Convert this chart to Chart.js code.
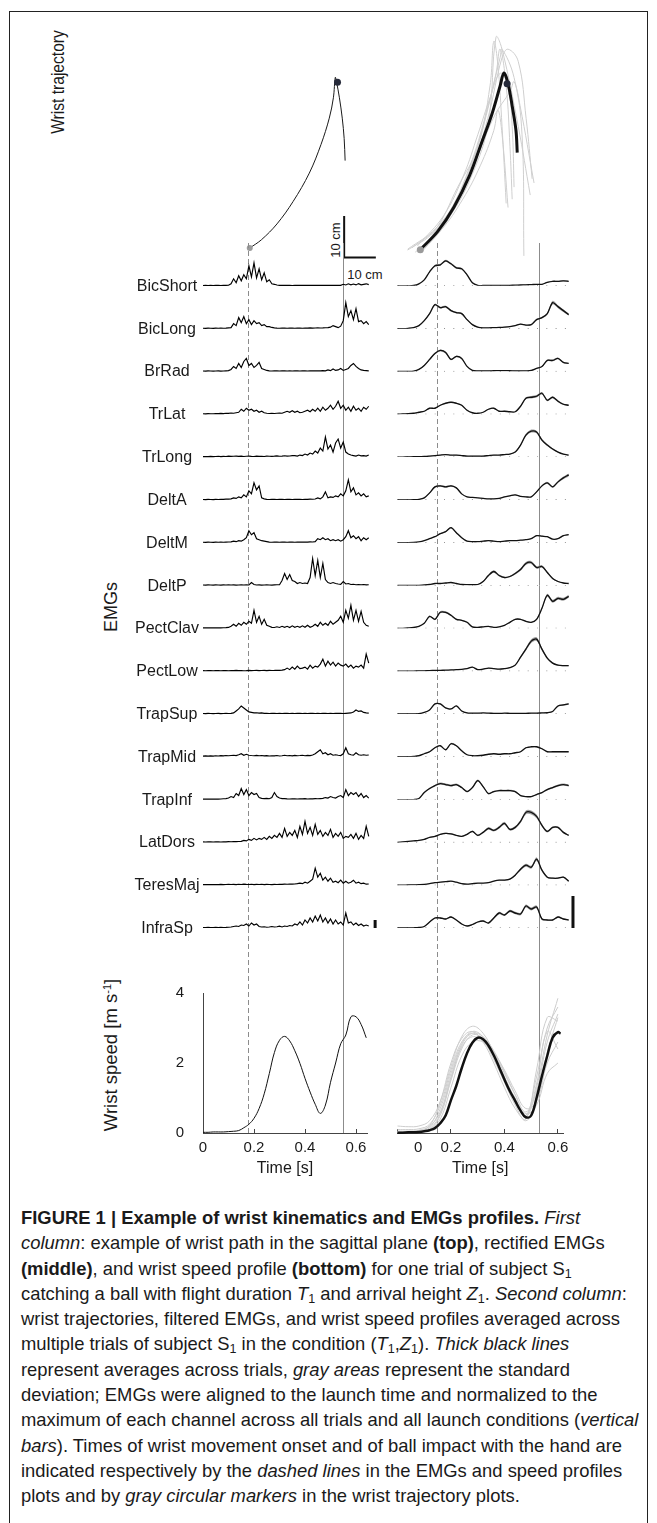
<!DOCTYPE html>
<html><head><meta charset="utf-8">
<script src="https://cdn.jsdelivr.net/npm/chart.js@4.4.1/dist/chart.umd.min.js"></script>
<style>
html,body{margin:0;padding:0;background:#fff;}
#fig{position:relative;width:657px;height:1523px;overflow:hidden;font-family:'Liberation Sans',Arial,Helvetica,sans-serif;color:#1a1a1a;}
#frame{position:absolute;left:9px;top:11px;width:639px;height:1600px;border:1px solid #222;box-sizing:border-box;}
canvas{position:absolute;}
.lab{position:absolute;font-size:16px;white-space:nowrap;transform:translate(-50%,-50%);line-height:1;}
.rot{position:absolute;white-space:nowrap;transform:translate(-50%,-50%) rotate(-90deg);line-height:1;}
#cap{position:absolute;left:21px;top:1205px;font-size:18.4px;line-height:25.3px;white-space:nowrap;}
#cap sub{font-size:0.68em;line-height:0;vertical-align:-0.25em;}
sup{font-size:0.6em;line-height:0;vertical-align:0.55em;}
</style></head><body>
<div id="fig">
<div id="frame"></div>
<div class="rot" style="left:57px;top:82px;font-size:19px;transform:translate(-50%,-50%) rotate(-90deg) scaleX(0.82);">Wrist trajectory</div>
<div class="rot" style="left:111px;top:607px;font-size:18px;">EMGs</div>
<div class="rot" style="left:111px;top:1055px;font-size:18.5px;">Wrist speed [m s<sup>-1</sup>]</div>
<div class="rot" style="left:335px;top:240px;font-size:13px;">10 cm</div>
<div class="lab" style="left:365px;top:274px;font-size:13px;">10 cm</div>
<div id="cap">
<div><b>FIGURE 1 | Example of wrist kinematics and EMGs profiles.</b> <i>First</i></div>
<div><i>column</i>: example of wrist path in the sagittal plane <b>(top)</b>, rectified EMGs</div>
<div><b>(middle)</b>, and wrist speed profile <b>(bottom)</b> for one trial of subject S<sub>1</sub></div>
<div>catching a ball with flight duration <i>T</i><sub>1</sub> and arrival height <i>Z</i><sub>1</sub>. <i>Second column</i>:</div>
<div>wrist trajectories, filtered EMGs, and wrist speed profiles averaged across</div>
<div>multiple trials of subject S<sub>1</sub> in the condition (<i>T</i><sub>1</sub>,<i>Z</i><sub>1</sub>). <i>Thick black lines</i></div>
<div>represent averages across trials, <i>gray areas</i> represent the standard</div>
<div>deviation; EMGs were aligned to the launch time and normalized to the</div>
<div>maximum of each channel across all trials and all launch conditions (<i>vertical</i></div>
<div><i>bars</i>). Times of wrist movement onset and of ball impact with the hand are</div>
<div>indicated respectively by the <i>dashed lines</i> in the EMGs and speed profiles</div>
<div>plots and by <i>gray circular markers</i> in the wrist trajectory plots.</div>
</div>
</div>
<script>
// ================= DATA =================
const MUSCLES = ['BicShort','BicLong','BrRad','TrLat','TrLong','DeltA','DeltM','DeltP','PectClav','PectLow','TrapSup','TrapMid','TrapInf','LatDors','TeresMaj','InfraSp'];

// --- wrist trajectory, single trial (cm, sagittal plane) ---
const TRAJ_L_X = [-29.8,-26.1,-21.2,-16.1,-11.0,-7.3,-4.7,-3.4,-2.8,-2.4,-1.5,-0.6,0,0.3];
const TRAJ_L_Y = [2.3,4.3,8.1,13.5,20.3,27.2,33.5,38.4,43.3,42.2,38.4,33.5,28.6,23.3];
const TRAJ_L_IMPACT = [-2.1, 42.1];
// --- wrist trajectory, average and single trials (cm) ---
const TRAJ_R_X = [-29.4,-23.9,-18.8,-13.8,-10,-6.8,-4.2,-3.0,-1.7,-0.4,0.8,1.2];
const TRAJ_R_Y = [1.9,6.3,12.1,19.8,27.7,34.4,41.2,44.3,41.7,36.4,30.5,25.2];
const TRAJ_R_IMPACT = [-2.0, 41.7];
const TRIAL1_X = [-33.4,-25.2,-17.6,-11.2,-7.4,-6.2,-4.9,-3.6,-2.3], TRIAL1_Y = [1.8,6.2,16.9,26.7,41.2,51.9,46.1,31.5,13.0];
const TRIAL2_X = [-32.1,-22.6,-15.0,-9.9,-5.5,-4.2,-2.3,-1.1,-0.4], TRIAL2_Y = [2.3,8.2,18.9,30.5,44.2,50.0,41.2,26.7,14.0];
const TRIAL3_X = [-29.0,-21.4,-13.8,-8.1,-3.6,-1.7,1.5,4.0,5.9],   TRIAL3_Y = [1.3,8.2,19.8,33.4,48.0,50.0,47.1,33.4,18.9];
const TRIAL4_X = [-30.3,-22.0,-15.7,-11.2,-7.4,-4.2,-1.7,-0.4,0.2], TRIAL4_Y = [2.8,10.1,19.8,29.6,38.3,44.2,41.2,31.5,16.9];
const TRIAL5_X = [-27.7,-20.1,-13.8,-8.7,-4.2,-3.6,0.2,2.7,3.3],   TRIAL5_Y = [3.3,11.1,21.8,34.4,48.0,50.0,43.2,29.6,0.4];
const TRIAL6_X = [-33.4,-24.5,-17.0,-11.0,-6.0,-1.0,0.2,2.1,6.5],  TRIAL6_Y = [2.0,7.0,15.0,25.0,34.0,40.0,42.2,36.4,17.9];
const TRIAL7_X = [-31.0,-23.0,-16.0,-10.5,-6.2,-4.9,-3.6,-1.7],    TRIAL7_Y = [1.3,6.5,14.0,22.0,30.5,35.4,29.6,12.0];
const TRIAL8_X = [-28.0,-20.0,-13.0,-8.0,-5.5,-3.6,1.5,5.3],       TRIAL8_Y = [3.0,10.0,20.0,32.0,52.9,50.0,31.5,15.0];
const SCALEBAR_CM = 10;

// --- rectified EMGs, single trial (a.u.), sampled every 10 ms from t = 0 ---
const EMG_L_DT = 0.01;
const EMG_L_BICSHORT = [0.3,0.5,0.3,0.4,0.3,0.5,0.4,0.3,0.5,0.4,0.6, 2,7,3,10,5,11,7,20,9,23,8,17,6,13,4,6,2,1.5,0.8, 0.5,0.4,0.6,0.4,0.5,0.3,0.5,0.6,0.4,0.5,0.4,0.6,0.5,0.4,0.5,0.6,0.4,0.5,0.4,0.5,0.6,0.5,0.4,0.6,0.5, 1.5,0.8,2,1,1.8,0.9,2.2,1,1.5,2,1.2];
const EMG_L_BICLONG = [0.4,0.3,0.5,0.4,0.3,0.5,0.4,0.6,0.4,0.5,0.8, 1,5,3,11,6,12,5,9,4,8,5,6,3,4,2,2,1.2,0.8, 0.5,0.4,0.6,0.5,0.4,0.5,0.6,0.4,0.5,0.5,0.4,0.6,0.5,0.7,0.5,0.6,0.8,0.6,0.7,0.9, 1,1.5,3,2,1,2.5,8,26,12,18,9,20,7,8,5,7,4];
const EMG_L_BRRAD = [0.4,0.3,0.5,0.4,0.3,0.4,0.5,0.3,0.4,0.6,0.8, 2,5,3,8,4,10,13,6,8,4,6,9,3,2,1, 0.5,0.4,0.6,0.5,0.4,0.5,0.6,0.4,0.5,0.4,0.6,0.5,0.4,0.5,0.6,0.4,0.5,0.6,0.5,0.7,0.5,0.8,0.6, 1.5,0.8,2.5,1,1.5,3,1,2,3,6,8,5,3,1.5,1,0.8,0.6];
const EMG_L_TRLAT = [0.5,0.4,0.6,0.5,0.5,0.7,0.6,0.8,0.7,1,0.9, 1.2,1,1.5,2,5,3,6,4,5,3,4,2,3,1.5,1, 0.8,1,0.8,1,1.2,1,2,3,2,3.5,2,3,1.5,2,3,4,2.5,5,3,6,3,7,4,6,9,5,8,13,6,9,4,7,3,8,4,6,3,7,5,8];
const EMG_L_TRLONG = [0.5,0.6,0.4,0.7,0.5,0.6,0.8,0.5,0.7,0.6,0.9,0.7,0.8,1,0.7,0.9,0.6,0.8,1,0.7,0.6,0.9,0.7,0.8,0.6,1,0.8,0.7,0.9,1.2,0.8,1,1.3,0.9,1.1,1.4, 1.5,1,2,1.5,3,2,4,3,6,4,9,6,20,8,12,5,14,18,9,15,5,3,2, 1.5,1,2,1.2,1.5,1,2];
const EMG_L_DELTA = [0.4,0.3,0.5,0.4,0.3,0.5,0.4,0.6,0.5,0.7,0.8, 1,2,1.5,3,2,5,3,9,6,17,10,14,2,1, 0.5,0.4,0.6,0.5,0.4,0.6,0.5,0.4,0.5,0.6,0.4,0.5,0.6,0.5,0.4,0.6,0.5,0.7,0.6,0.9, 2,1,3,8,2,3,2.5,4,3,6,4,9,20,8,12,5,7,4,6,3,4];
const EMG_L_DELTM = [0.4,0.3,0.5,0.4,0.3,0.5,0.4,0.5,0.4,0.6,0.7, 0.8,1.5,1,2,1.5,3,5,12,8,10,4,3,2,1.5,1, 0.5,0.4,0.6,0.5,0.4,0.6,0.5,0.4,0.6,0.5,0.4,0.6,0.5,0.7,0.5,0.6,0.8,0.7, 1,4,3,5,3,4,2,3,2,3,1.5,3,6,12,5,7,4,6,2,5,3,5];
const EMG_L_DELTP = [0.5,0.4,0.6,0.5,0.4,0.6,0.5,0.4,0.6,0.5,0.7,0.5,0.6,0.4,0.5,0.7,0.5,0.6,0.5, 3,1, 0.5,0.6,0.4,0.5,0.6,0.5,0.4,0.6,0.7,0.8, 5,12,6,11,5,4,2,3,2,2.5,2,8,27,10,25,8,22,6,3,2,3,2,1.5,1.2,4,1.5,2,1,1.2,0.8,1,0.8,1,0.7,0.8];
const EMG_L_PECTCLAV = [0.5,0.4,0.6,0.5,0.4,0.6,0.5,0.4,0.6,0.7,0.9, 2,4,2,5,3,6,4,7,5,18,6,12,4,9,3,2,1, 0.8,1.5,0.8,2,1,2,0.8,2.5,1,2,1,2.5,1,3,1,2,4,2,6,3,5,3,7,4,6,8,12,6,18,10,23,8,18,7,17,6,3,2];
const EMG_L_PECTLOW = [0.5,0.4,0.6,0.5,0.4,0.6,0.5,0.4,0.6,0.5,0.4,0.6,0.5,0.7,0.5,0.6,0.4,0.5,0.7,0.5,0.6,0.8,0.5,0.6,0.7,0.5,0.8,0.6,0.7,0.9,0.7,1, 1.5,3,1.5,4,2,5,2.5,3,4,2,6,3,5,4,7,12,5,10,6,9,5,8,6,5,7,4,6,3,5,4,6,3,17,8];
const EMG_L_TRAPSUP = [0.4,0.3,0.5,0.4,0.3,0.4,0.5,0.3,0.4,0.5,0.4,0.6,1, 3,5,8,6,4,2,1.5,1,1.2,0.8,1, 0.5,0.6,0.4,0.5,0.6,0.4,0.5,0.4,0.5,0.6,0.4,0.5,0.4,0.5,0.6,0.4,0.5,0.4,0.5,0.6,0.4,0.5,0.4,0.5,0.6,0.4,0.5,0.4,0.5,0.6,0.5,0.4,0.6,0.8,1, 2,4,2.5,3,1.5,1,0.8];
const EMG_L_TRAPMID = [0.6,0.8,0.6,0.9,0.7,1,0.8,1.1,0.9,1.2,1,1.3,1.5,1.2, 2,3,1.5,2.5,1.5,1.2,1,1.3,1,1.2,0.9,1.1,0.8,1,0.9,1.2,0.8,1,1.5,1,1.2,0.9,1.4,1,1.2,1.5,1,1.3,1.2,1.8,3,5,7,3,4,2,3,1.5,2,1.5,1.2,3,9,3,2,1.5,4,2,1.5,2,1.5,1.8];
const EMG_L_TRAPINF = [0.5,0.4,0.6,0.5,0.4,0.6,0.5,0.6,0.8,1, 1.5,3,2,6,4,11,5,10,4,7,5,6,2,1.2,1,1.2,0.8,2,7,3,1.5,1,0.9, 0.7,0.6,0.8,0.7,0.6,0.8,0.7,0.9,0.6,0.8,0.7,0.9,0.8,1,1.2, 2,1.5,3,2,1.5,3,4,2,10,4,7,5,7,3,6,2,4,1.5];
const EMG_L_LATDORS = [0.5,0.4,0.6,0.5,0.4,0.6,0.5,0.4,0.6,0.5,0.7,0.6,0.8,0.7,0.9, 1,2,1.5,3,2,4,2.5,4,3,5,3,6,4,7,5,9,5,14,6,10,7,12,5,16,8,21,9,15,7,18,8,12,6,10,7,13,5,9,6,10,4,6,5,8,4,9,3,7,4,16,6];
const EMG_L_TERESMAJ = [0.6,0.5,0.7,0.6,0.5,0.7,0.6,0.8,0.6,0.7,0.9,0.7,0.8,0.6,0.9,0.7,1,0.8,0.7,0.9,0.6,0.8,0.7,0.9,0.6,0.8,0.7,0.6,0.8,0.7,0.9,0.8,1,0.9,1.1,1,1.2, 1.5,2,1.5,3,2,4,6,17,8,12,5,8,4,7,3,4,2.5,5,2,4,2,3,5,2,3,1.5,2,1,1.2];
const EMG_L_INFRASP = [0.5,0.4,0.6,0.5,0.4,0.6,0.5,0.7,0.5,0.6,0.8,1, 1.5,2,1.5,3,2.5,4,2,5,3,4,1.5,1,1.2,0.8,1,1.5,1,1.2,1.8,1,2,1.5,2.5,2,4,3,6,3,8,5,10,6,12,7,13,6,10,5,9,4,8,4,6,3,15,5,6,3,5,2.5,4,2,3,2];
const EMG_L_BAR = 8;          // vertical bar (a.u.)
const EMG_L_BAR_T = 0.675;    // s

// --- filtered EMGs, mean and SD across trials (a.u., bar = max), sampled every 20 ms ---
const EMG_R_DT = 0.02;
const EMG_R_MEAN_BICSHORT = [0,0,0,0.3,2,6,14,20,21,25,22,18,17,11,3,0.5,0.3,0.3,0.3,0.3,0.4,0.5,0.6,0.8,1,1.2,1.5,1.5,3.5,4.5,4.5,5,4.5];
const EMG_R_SD_BICSHORT   = [0,0,0,0.1,0.3,0.5,0.8,1,1,1,1,1,0.8,0.8,0.5,0.2,0.1,0.1,0.1,0.1,0.1,0.2,0.2,0.2,0.2,0.3,0.3,0.4,0.5,0.5,0.5,0.5,0.5];
const EMG_R_MEAN_BICLONG = [0,0,0.3,1,3,8,15,24,21,22,18,16,15,9,4,1.5,0.8,0.8,1,1.2,1.5,2,3,4.5,3.5,4,9,11,15,26,22,18,14];
const EMG_R_SD_BICLONG   = [0,0,0.1,0.2,0.4,0.6,0.8,1,1,1,0.9,0.8,0.8,0.6,0.5,0.3,0.2,0.2,0.2,0.2,0.3,0.3,0.4,0.5,0.5,0.5,0.8,0.9,1,1.8,1.5,1.3,1];
const EMG_R_MEAN_BRRAD = [0,0,0,0.3,2,6,12,18,21,19,12,15,13,5,1,0.5,0.5,0.5,0.7,0.8,0.8,0.7,0.5,0.5,0.6,1,3,5,11,11,13,9,8];
const EMG_R_SD_BRRAD   = [0,0,0,0.1,0.3,0.5,0.8,0.9,1,1,0.8,0.8,0.8,0.5,0.3,0.2,0.2,0.2,0.2,0.2,0.2,0.2,0.2,0.2,0.2,0.3,0.4,0.5,0.8,0.9,0.8,0.8,0.6];
const EMG_R_MEAN_TRLAT = [0,0.3,0.5,1,2,3,6,6,9,11,12,11,9,4,1.5,1,2,5,6,3,3,2.5,2.5,8,16,17,18,21,14,17,13,10,9];
const EMG_R_SD_TRLAT   = [0,0.1,0.1,0.2,0.3,0.3,0.4,0.5,0.5,0.6,0.6,0.6,0.5,0.4,0.3,0.3,0.3,0.5,0.5,0.4,0.4,0.3,0.3,0.5,1,1.3,1.3,1.3,1,1,1,0.8,0.6];
const EMG_R_MEAN_TRLONG = [0,0,0.2,0.3,0.5,0.6,1,1.5,2,2.5,2,2,1.5,1,1,1,1,1.5,2,2,2.5,3,5,12,22,26,25,17,12,8,5,3,2];
const EMG_R_SD_TRLONG   = [0,0,0,0.1,0.1,0.1,0.2,0.2,0.2,0.2,0.2,0.2,0.2,0.2,0.2,0.2,0.2,0.2,0.2,0.2,0.3,0.3,0.5,1,1.3,1.5,1.3,1.3,1,0.8,0.5,0.4,0.3];
const EMG_R_MEAN_DELTA = [0,0,0,0.2,0.5,2,7,13,14,13,14,12,6,3,2.5,2,1.5,1,1,1.5,3,4,5,3.5,3,3,8,14,17,13,18,22,25];
const EMG_R_SD_DELTA   = [0,0,0,0.1,0.1,0.3,0.5,0.8,0.8,0.8,0.8,0.6,0.5,0.3,0.3,0.2,0.2,0.2,0.2,0.3,0.3,0.4,0.5,0.4,0.3,0.3,0.6,0.8,1,0.9,1,1.3,1.5];
const EMG_R_MEAN_DELTM = [0,0,0,0.2,0.8,2,4,6,9,11,15,10,5,1.5,1,1,1.5,2,1.5,1,1.5,2,2,2.5,3,4,7,6.5,6,3.5,4,7,8];
const EMG_R_SD_DELTM   = [0,0,0,0.1,0.1,0.2,0.3,0.4,0.5,0.6,0.8,0.6,0.4,0.2,0.2,0.2,0.2,0.2,0.2,0.2,0.2,0.2,0.2,0.3,0.3,0.4,0.5,0.5,0.4,0.3,0.4,0.5,0.5];
const EMG_R_MEAN_DELTP = [0,0,0,0,0.2,0.5,1,2,2,2.5,3,2,1,0.8,0.8,1,4,10,14,10,8,9,12,16,22,23,18,19,13,7,4,2.5,2];
const EMG_R_SD_DELTP   = [0,0,0,0,0.1,0.1,0.2,0.2,0.2,0.3,0.3,0.2,0.2,0.2,0.2,0.2,0.5,1,1.3,1,0.8,0.8,1,1.3,1.5,1.5,1.3,1.3,1,0.8,0.5,0.3,0.3];
const EMG_R_MEAN_PECTCLAV = [0,0,0.3,0.8,2,5,12,9,16,16,13,9,8,6,1.5,1,1.5,2,1,1.5,3,6,9,9,7,6,9,20,33,27,30,29,32];
const EMG_R_SD_PECTCLAV   = [0,0,0.1,0.1,0.2,0.4,0.8,0.8,1,1,0.9,0.8,0.6,0.5,0.3,0.2,0.2,0.2,0.2,0.2,0.3,0.5,0.6,0.6,0.5,0.5,0.8,1,1.5,1.5,1.5,1.5,1.5];
const EMG_R_MEAN_PECTLOW = [0,0,0,0,0.2,0.3,0.5,0.7,0.8,1,1.2,1.5,1.8,2.5,4,1.5,2,3,2.5,2,2.5,3.5,6,14,22,30,32,22,13,8,6,5.5,5.5];
const EMG_R_SD_PECTLOW   = [0,0,0,0,0.1,0.1,0.1,0.1,0.1,0.2,0.2,0.2,0.2,0.3,0.3,0.3,0.3,0.3,0.3,0.3,0.3,0.4,0.6,1,1.5,1.8,1.8,1.5,1,0.8,0.5,0.5,0.5];
const EMG_R_MEAN_TRAPSUP = [0,0,0,0,0.3,1.5,4,10,10,6,5,8,3,1,0.8,0.8,1,0.8,0.6,0.5,0.8,0.6,0.5,0.5,0.6,0.8,0.8,1,1.2,2.5,8,9,10];
const EMG_R_SD_TRAPSUP   = [0,0,0,0,0.1,0.2,0.4,0.6,0.6,0.5,0.4,0.5,0.3,0.2,0.1,0.1,0.1,0.1,0.1,0.1,0.1,0.1,0.1,0.1,0.1,0.1,0.1,0.2,0.2,0.3,0.6,0.8,0.8];
const EMG_R_MEAN_TRAPMID = [0,0,0,0.3,1,3,5,9,11,7,13,11,6,2,1,1,1.5,2.5,3,2.5,3,3,4,5,9,10,10,8,5,5,5,5,5];
const EMG_R_SD_TRAPMID   = [0,0,0,0.1,0.2,0.3,0.4,0.5,0.6,0.5,0.8,0.6,0.4,0.2,0.2,0.2,0.2,0.3,0.3,0.3,0.3,0.3,0.4,0.4,0.5,0.6,0.6,0.5,0.4,0.4,0.4,0.4,0.4];
const EMG_R_MEAN_TRAPINF = [0,0,0,0,1,7,11,14,16,15,14,15,12,8,12,19,13,6,8,9,9,9,8,4,3,3,5,7,10,12,14,15,14];
const EMG_R_SD_TRAPINF   = [0,0,0,0,0.2,0.5,0.8,0.9,1,1,1,1,0.9,0.8,0.8,1,0.9,0.6,0.8,0.8,0.8,0.8,0.8,0.5,0.4,0.4,0.5,0.6,0.8,0.9,1,1,1];
const EMG_R_MEAN_LATDORS = [0,0.5,1,1.5,2,3,5,6,8,9,8.5,7,6,8,11,7,10,14,12,15,19,13,15,21,30,30,26,17,11,15,15,10,7];
const EMG_R_SD_LATDORS   = [0,0.1,0.1,0.2,0.2,0.3,0.4,0.5,0.6,0.6,0.6,0.5,0.5,0.6,0.9,0.8,0.9,1.3,1,1.3,1.5,1,1.3,1.5,2,2,1.8,1.3,1,1,1,0.8,0.6];
const EMG_R_MEAN_TERESMAJ = [0,0,0.2,0.3,0.5,0.8,1.5,2.5,3,3.5,4,3,1.5,1,1.5,2,2,2.5,4,5,5,6,10,16,20,18,26,15,8,7,7,8,4];
const EMG_R_SD_TERESMAJ   = [0,0,0,0.1,0.1,0.1,0.2,0.2,0.3,0.3,0.3,0.3,0.2,0.2,0.2,0.2,0.2,0.3,0.3,0.4,0.5,0.6,0.9,1.3,1.5,1.5,1.8,1.3,0.8,0.6,0.6,0.6,0.5];
const EMG_R_MEAN_INFRASP = [0,0,0,0.2,0.5,1.5,6,10,10,9,11,8,4,2,3.5,6,7,5,10,15,13,17,15,14,22,19,21,9,8,8,11,9,8];
const EMG_R_SD_INFRASP   = [0,0,0,0.1,0.1,0.2,0.5,0.8,0.8,0.8,0.8,0.6,0.4,0.3,0.4,0.6,0.6,0.6,1,1.3,1,1.3,1.3,1.3,1.5,1.5,1.5,1,0.8,0.8,0.8,0.8,0.6];
const EMG_R_BAR = 32;         // normalisation maximum (a.u.)
const EMG_R_BAR_T = 0.656;    // s
const EMG_R_BASE_SPAN = [0, 0.634];

// --- wrist speed (m/s) ---
const SPEED_L_DT = 0.02;
const SPEED_L = [0.02,0.02,0.03,0.03,0.03,0.04,0.05,0.07,0.15,0.25,0.42,0.7,1.12,1.7,2.3,2.65,2.76,2.63,2.35,1.99,1.56,1.17,0.82,0.56,0.8,1.45,2.0,2.55,2.8,3.32,3.32,3.1,2.72];
const SPEED_R_T = [0,0.02,0.04,0.06,0.08,0.10,0.12,0.14,0.16,0.18,0.20,0.22,0.24,0.26,0.28,0.30,0.32,0.34,0.36,0.38,0.40,0.42,0.44,0.46,0.48,0.50,0.52,0.54,0.56,0.58,0.60,0.61];
const SPEED_R_MEAN = [0.01,0.01,0.02,0.02,0.03,0.05,0.08,0.14,0.28,0.5,0.94,1.35,1.85,2.28,2.58,2.72,2.68,2.5,2.22,1.88,1.53,1.2,0.92,0.64,0.45,0.5,1.0,1.62,2.2,2.72,2.88,2.84];
const SPEED_TRIAL_DT = 0.04;
const SPEED_TRIAL_1 = [0.2,0.18,0.2,0.35,0.9,1.9,2.75,3.05,2.85,2.3,1.6,0.95,0.45,1.3,2.8,3.85];
const SPEED_TRIAL_2 = [0.05,0.05,0.06,0.15,0.7,1.7,2.55,2.9,2.75,2.25,1.55,0.9,0.5,1.6,3.0,3.6];
const SPEED_TRIAL_3 = [0.02,0.02,0.04,0.1,0.5,1.5,2.4,2.8,2.7,2.3,1.7,1.1,0.6,1.2,2.6,3.4];
const SPEED_TRIAL_4 = [0.1,0.1,0.12,0.25,0.8,1.8,2.6,2.85,2.65,2.1,1.45,0.8,0.35,0.9,2.3,3.3];
const SPEED_TRIAL_5 = [0.02,0.03,0.05,0.1,0.4,1.3,2.2,2.6,2.6,2.3,1.8,1.2,0.7,0.9,2.0,2.6];
const SPEED_TRIAL_6 = [0.03,0.04,0.05,0.2,0.9,2.0,2.7,2.9,2.6,2.0,1.3,0.7,0.4,1.8,3.3,3.2];
const SPEED_TRIAL_7 = [0.05,0.05,0.08,0.2,0.6,1.6,2.45,2.75,2.6,2.2,1.6,1.0,0.55,0.8,1.7,2.0];
const SPEED_TRIAL_8 = [0.02,0.02,0.03,0.12,0.55,1.55,2.5,2.85,2.75,2.35,1.75,1.1,0.5,1.4,2.9,2.4];

// --- event times (s) and ticks ---
const ONSET_L = 0.176, IMPACT_L = 0.549;
const ONSET_R = 0.148, IMPACT_R = 0.53;
const X_TICKS = [0, 0.2, 0.4, 0.6];
const Y_TICKS = [0, 2, 4];
const ZERO_LABEL_T_R = 0.077;   // where the "0" label is printed in the right speed panel

// ================= LAYOUT =================
const FONT = "'Liberation Sans', Arial, Helvetica, sans-serif";
const TRAJ_GEO_L = {left:200, top:30, w:200, h:250, x0:346, y0:261, sx:3.3, sy:4.3};
const TRAJ_GEO_R = {left:400, top:20, w:200, h:260, x0:514, y0:261, sx:3.3, sy:4.3};
const EMG_TOP = 243, EMG_H = 685;
const COL_L = {x0:203, pps:255, emgLeft:195, emgW:190, spLeft:150, spW:240, spPadR:23, yW:53, tMax:0.643};
const COL_R = {x0:397.5, pps:267.5, emgLeft:390, emgW:200, spLeft:380, spW:210, spPadR:27, tMax:0.619};
const SP_TOP = 928, SP_H = 257, SP_PADTOP = 65, SP_AXH = 52;

Chart.defaults.font.family = FONT;
Chart.defaults.color = '#1a1a1a';

function makeCtx(left, top, w, h) {
  const c = document.createElement('canvas');
  c.width = w; c.height = h;
  c.style.left = left + 'px'; c.style.top = top + 'px';
  c.style.width = w + 'px'; c.style.height = h + 'px';
  document.getElementById('fig').appendChild(c);
  return c.getContext('2d');
}
const pts = (xs, ys) => xs.map((x, i) => ({x, y: ys[i]}));
const series = (vals, dt) => vals.map((v, i) => ({x: i * dt, y: v}));
const baseOpts = () => ({responsive:false, animation:false, devicePixelRatio:1, events:[],
  layout:{padding:0}, plugins:{legend:{display:false}, tooltip:{enabled:false}}});

const timeLines = {
  id: 'timeLines',
  beforeDatasetsDraw(chart, args, opts) {
    const {ctx, chartArea} = chart, x = chart.scales.x;
    const top = opts.fromCanvasTop ? 0 : chartArea.top;
    ctx.save();
    ctx.strokeStyle = '#8c8c8c'; ctx.lineWidth = 1;
    for (const ev of opts.events) {
      const px = Math.round(x.getPixelForValue(ev.t)) + 0.5;
      ctx.setLineDash(ev.dashed ? [5, 3] : []);
      ctx.beginPath(); ctx.moveTo(px, top); ctx.lineTo(px, chartArea.bottom); ctx.stroke();
    }
    ctx.restore();
  }
};

// ---------- trajectories ----------
// Chart.js draws lower "order" values on top.
function trajChart(g, datasets) {
  const ctx = makeCtx(g.left, g.top, g.w, g.h);
  const o = baseOpts();
  o.scales = {
    x: {type:'linear', display:false, min:(g.left - g.x0) / g.sx, max:(g.left + g.w - g.x0) / g.sx},
    y: {type:'linear', display:false, min:(g.y0 - g.top - g.h) / g.sy, max:(g.y0 - g.top) / g.sy}
  };
  new Chart(ctx, {type:'scatter', data:{datasets}, options:o});
}
const lineDS = (data, color, width, tension, order) => ({data, showLine:true, borderColor:color, borderWidth:width, pointRadius:0, tension, clip:false, order});
const markerDS = (x, y, color, r) => ({data:[{x, y}], showLine:false, pointRadius:r, pointBackgroundColor:color, pointBorderWidth:0, clip:false, order:0});

trajChart(TRAJ_GEO_L, [
  lineDS(pts(TRAJ_L_X, TRAJ_L_Y), '#1a1a1a', 1, 0.35, 1),
  lineDS([{x:0, y:SCALEBAR_CM}, {x:0, y:0}, {x:SCALEBAR_CM, y:0}], '#111', 2, 0, 1),
  markerDS(TRAJ_L_X[0], TRAJ_L_Y[0], '#9a9a9a', 3),
  markerDS(TRAJ_L_IMPACT[0], TRAJ_L_IMPACT[1], '#262a3a', 3.5)
]);
const TRIALS = [[TRIAL1_X,TRIAL1_Y],[TRIAL2_X,TRIAL2_Y],[TRIAL3_X,TRIAL3_Y],[TRIAL4_X,TRIAL4_Y],[TRIAL5_X,TRIAL5_Y],[TRIAL6_X,TRIAL6_Y],[TRIAL7_X,TRIAL7_Y],[TRIAL8_X,TRIAL8_Y]];
trajChart(TRAJ_GEO_R, [
  ...TRIALS.map(([xs, ys]) => lineDS(pts(xs, ys), '#cfcfcf', 1, 0.4, 2)),
  lineDS(pts(TRAJ_R_X, TRAJ_R_Y), '#111', 3, 0.35, 1),
  markerDS(TRAJ_R_X[0], TRAJ_R_Y[0], '#9a9a9a', 3.5),
  markerDS(TRAJ_R_IMPACT[0], TRAJ_R_IMPACT[1], '#262a3a', 3.5)
]);

// ---------- EMG panels (one stacked y axis per muscle) ----------
function stackedScales(col, yMax) {
  const s = {x: {type:'linear', display:false,
    min:(col.emgLeft - col.x0) / col.pps, max:(col.emgLeft + col.emgW - col.x0) / col.pps}};
  for (let i = MUSCLES.length - 1; i >= 0; i--) {
    s['y' + i] = {type:'linear', position:'left', stack:'emg', stackWeight:1, min:0, max:yMax,
      ticks:{display:false}, grid:{display:false}, border:{display:false},
      afterFit: sc => { sc.width = 0; }};
  }
  return s;
}
const rowH = EMG_H / MUSCLES.length;

const EMG_L = [EMG_L_BICSHORT,EMG_L_BICLONG,EMG_L_BRRAD,EMG_L_TRLAT,EMG_L_TRLONG,EMG_L_DELTA,EMG_L_DELTM,EMG_L_DELTP,EMG_L_PECTCLAV,EMG_L_PECTLOW,EMG_L_TRAPSUP,EMG_L_TRAPMID,EMG_L_TRAPINF,EMG_L_LATDORS,EMG_L_TERESMAJ,EMG_L_INFRASP];
{
  const ctx = makeCtx(COL_L.emgLeft, EMG_TOP, COL_L.emgW, EMG_H);
  const ds = EMG_L.map((v, i) => ({type:'line', data:series(v, EMG_L_DT), yAxisID:'y'+i,
    borderColor:'#000', borderWidth:1.15, pointRadius:0, tension:0, clip:false}));
  ds.push({type:'line', data:[{x:EMG_L_BAR_T, y:0}, {x:EMG_L_BAR_T, y:EMG_L_BAR}], yAxisID:'y15',
    borderColor:'#111', borderWidth:3, pointRadius:0, borderCapStyle:'butt', clip:false});
  const o = baseOpts();
  o.scales = stackedScales(COL_L, rowH);
  o.plugins.timeLines = {events:[{t:ONSET_L, dashed:true}, {t:IMPACT_L, dashed:false}], fromCanvasTop:false};
  new Chart(ctx, {type:'line', data:{datasets:ds}, options:o, plugins:[timeLines]});
}

const EMG_R_MEAN = [EMG_R_MEAN_BICSHORT,EMG_R_MEAN_BICLONG,EMG_R_MEAN_BRRAD,EMG_R_MEAN_TRLAT,EMG_R_MEAN_TRLONG,EMG_R_MEAN_DELTA,EMG_R_MEAN_DELTM,EMG_R_MEAN_DELTP,EMG_R_MEAN_PECTCLAV,EMG_R_MEAN_PECTLOW,EMG_R_MEAN_TRAPSUP,EMG_R_MEAN_TRAPMID,EMG_R_MEAN_TRAPINF,EMG_R_MEAN_LATDORS,EMG_R_MEAN_TERESMAJ,EMG_R_MEAN_INFRASP];
const EMG_R_SD = [EMG_R_SD_BICSHORT,EMG_R_SD_BICLONG,EMG_R_SD_BRRAD,EMG_R_SD_TRLAT,EMG_R_SD_TRLONG,EMG_R_SD_DELTA,EMG_R_SD_DELTM,EMG_R_SD_DELTP,EMG_R_SD_PECTCLAV,EMG_R_SD_PECTLOW,EMG_R_SD_TRAPSUP,EMG_R_SD_TRAPMID,EMG_R_SD_TRAPINF,EMG_R_SD_LATDORS,EMG_R_SD_TERESMAJ,EMG_R_SD_INFRASP];
{
  const ctx = makeCtx(COL_R.emgLeft, EMG_TOP, COL_R.emgW, EMG_H);
  const ds = [];
  EMG_R_MEAN.forEach((m, i) => {
    const sd = EMG_R_SD[i];
    const yid = 'y' + i;
    ds.push({data:series(m.map((v, k) => v + (sd[k] || 0)), EMG_R_DT), yAxisID:yid, borderWidth:0, pointRadius:0, tension:0.3, fill:false, order:3});
    ds.push({data:series(m.map((v, k) => v - (sd[k] || 0)), EMG_R_DT), yAxisID:yid, borderWidth:0, pointRadius:0, tension:0.3,
      fill:'-1', backgroundColor:'rgba(150,150,150,0.9)', order:3});
    ds.push({data:[{x:EMG_R_BASE_SPAN[0], y:0}, {x:EMG_R_BASE_SPAN[1], y:0}], yAxisID:yid,
      borderColor:'#555', borderWidth:1, borderDash:[1, 8.3], pointRadius:0, fill:false, order:2});
    ds.push({data:series(m, EMG_R_DT), yAxisID:yid, borderColor:'#111', borderWidth:1.3, pointRadius:0, tension:0.3, fill:false, order:1});
  });
  ds.push({data:[{x:EMG_R_BAR_T, y:0}, {x:EMG_R_BAR_T, y:EMG_R_BAR}], yAxisID:'y15',
    borderColor:'#111', borderWidth:3, pointRadius:0, borderCapStyle:'butt', clip:false, fill:false, order:0});
  const o = baseOpts();
  o.scales = stackedScales(COL_R, rowH);
  o.plugins.timeLines = {events:[{t:ONSET_R, dashed:true}, {t:IMPACT_R, dashed:false}], fromCanvasTop:false};
  o.plugins.filler = {propagate:false};
  new Chart(ctx, {type:'line', data:{datasets:ds}, options:o, plugins:[timeLines]});
}

// EMG channel labels
MUSCLES.forEach((name, i) => {
  const d = document.createElement('div');
  d.className = 'lab';
  d.textContent = name;
  d.style.left = '167px';
  d.style.top = (EMG_TOP + rowH * (i + 1)) + 'px';
  document.getElementById('fig').appendChild(d);
});

// ---------- speed panels ----------
function xAxis(col, ticks, labelFor, tickColorFor) {
  return {type:'linear', position:'bottom', min:0, max:col.tMax,
    afterBuildTicks: a => { a.ticks = ticks.map(v => ({value:v})); },
    ticks:{autoSkip:false, maxRotation:0, padding:10, font:{size:15}, color:'#1a1a1a', callback:labelFor},
    grid:{drawOnChartArea:false, drawTicks:true, tickLength:-4, tickColor:tickColorFor, color:'#444'},
    border:{display:true, color:'#444', width:1},
    title:{display:true, text:'Time [s]', font:{size:16}, color:'#1a1a1a', padding:{top:0, bottom:7}},
    afterFit: s => { s.height = SP_AXH; }};
}
{
  const ctx = makeCtx(COL_L.spLeft, SP_TOP, COL_L.spW, SP_H);
  const o = baseOpts();
  o.layout = {padding:{left:0, top:SP_PADTOP, right:COL_L.spPadR, bottom:0}};
  o.scales = {
    x: xAxis(COL_L, X_TICKS, v => String(v), () => '#444'),
    y: {type:'linear', position:'left', min:0, max:4,
      afterBuildTicks: a => { a.ticks = Y_TICKS.map(v => ({value:v})); },
      ticks:{padding:11, font:{size:15}, color:'#1a1a1a', callback: v => String(v)},
      grid:{display:false}, border:{display:true, color:'#444', width:1},
      afterFit: s => { s.width = COL_L.yW; }}
  };
  o.plugins.timeLines = {events:[{t:ONSET_L, dashed:true}, {t:IMPACT_L, dashed:false}], fromCanvasTop:true};
  new Chart(ctx, {type:'line', data:{datasets:[
    {data:series(SPEED_L, SPEED_L_DT), borderColor:'#111', borderWidth:1, pointRadius:0, tension:0.4, clip:false}
  ]}, options:o, plugins:[timeLines]});
}
{
  const ctx = makeCtx(COL_R.spLeft, SP_TOP, COL_R.spW, SP_H);
  const o = baseOpts();
  o.layout = {padding:{left:COL_R.x0 - COL_R.spLeft, top:SP_PADTOP, right:COL_R.spPadR, bottom:0}};
  const rTicks = [X_TICKS[0], ZERO_LABEL_T_R, ...X_TICKS.slice(1)];
  o.scales = {
    x: xAxis(COL_R, rTicks,
      v => v === ZERO_LABEL_T_R ? '0' : (v === 0 ? '' : String(v)),
      c => (c.tick && c.tick.value === ZERO_LABEL_T_R) ? 'rgba(0,0,0,0)' : '#444'),
    y: {type:'linear', display:false, min:0, max:4}
  };
  o.plugins.timeLines = {events:[{t:ONSET_R, dashed:true}, {t:IMPACT_R, dashed:false}], fromCanvasTop:true};
  const trials = [SPEED_TRIAL_1,SPEED_TRIAL_2,SPEED_TRIAL_3,SPEED_TRIAL_4,SPEED_TRIAL_5,SPEED_TRIAL_6,SPEED_TRIAL_7,SPEED_TRIAL_8];
  new Chart(ctx, {type:'line', data:{datasets:[
    ...trials.map(v => ({data:series(v, SPEED_TRIAL_DT), borderColor:'#cdcdcd', borderWidth:1, pointRadius:0, tension:0.4, clip:false, order:2})),
    {data:pts(SPEED_R_T, SPEED_R_MEAN), borderColor:'#111', borderWidth:2.5, pointRadius:0, tension:0.4, clip:false, order:1}
  ]}, options:o, plugins:[timeLines]});
}
</script>
</body></html>
